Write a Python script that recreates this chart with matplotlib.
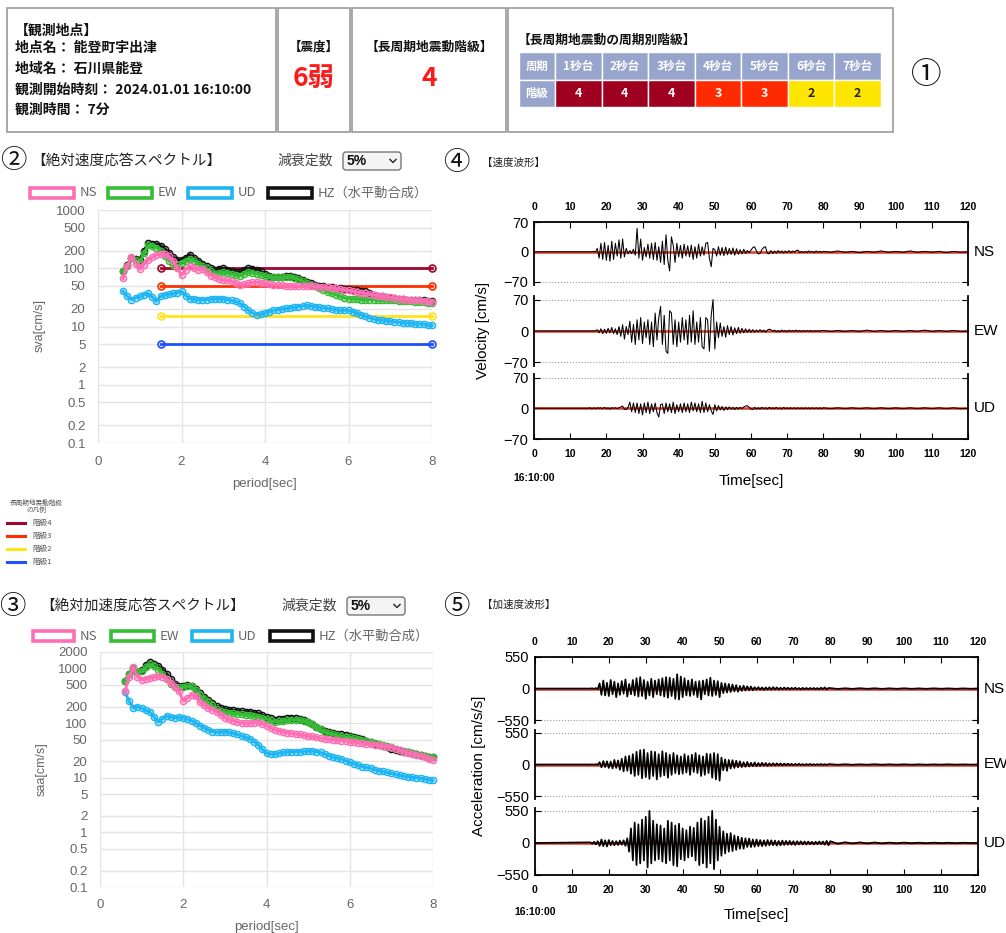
import numpy as np
import matplotlib
matplotlib.use('Agg')
import matplotlib.pyplot as plt
from matplotlib.patches import Rectangle, FancyBboxPatch
from matplotlib.colors import to_rgba
from matplotlib.ticker import NullLocator

plt.rcParams['font.family'] = ['Noto Sans CJK JP', 'DejaVu Sans']
LAT = ['Liberation Sans', 'DejaVu Sans']

W, H = 1006, 933

# ---- header data ----
site_lines = ['【観測地点】', '地点名： 能登町宇出津', '地域名： 石川県能登',
              '観測開始時刻： 2024.01.01 16:10:00', '観測時間： 7分']
shindo = '6弱'
lpgm_class = '4'
period_cols = ['1秒台', '2秒台', '3秒台', '4秒台', '5秒台', '6秒台', '7秒台']
period_class = [4, 4, 4, 3, 3, 2, 2]

# ---- response spectra (period 0.6 .. 8.0 s) ----
period = [0.6, 0.7, 0.8, 0.9, 1.0, 1.1, 1.2, 1.3, 1.4, 1.5,
          1.6, 1.7, 1.8, 1.9, 2.0, 2.1, 2.2, 2.3, 2.4, 2.5,
          2.6, 2.7, 2.8, 2.9, 3.0, 3.1, 3.2, 3.3, 3.4, 3.5,
          3.6, 3.7, 3.8, 3.9, 4.0, 4.1, 4.2, 4.3, 4.4, 4.5,
          4.6, 4.7, 4.8, 4.9, 5.0, 5.1, 5.2, 5.3, 5.4, 5.5,
          5.6, 5.7, 5.8, 5.9, 6.0, 6.1, 6.2, 6.3, 6.4, 6.5,
          6.6, 6.7, 6.8, 6.9, 7.0, 7.1, 7.2, 7.3, 7.4, 7.5,
          7.6, 7.7, 7.8, 7.9, 8.0]

sva_ns = [67, 110, 158, 120, 96, 115, 140, 155, 170, 175,
          175, 160, 135, 100, 76, 95, 110, 100, 95, 98,
          85, 75, 70, 65, 62, 62, 60, 56, 52, 53,
          55, 57, 58, 56, 55, 53, 52, 51, 51, 50,
          50, 50, 49, 49, 50, 50, 49, 48, 48, 47,
          46, 45, 44, 43, 42, 41, 39, 38, 37, 36,
          35, 34, 33, 32, 32, 31, 30, 30, 29, 29,
          28, 28, 27, 27, 26]
sva_ew = [90, 110, 150, 140, 130, 180, 250, 245, 225, 200,
          165, 135, 112, 105, 125, 135, 145, 135, 120, 110,
          100, 88, 80, 82, 85, 82, 80, 77, 75, 80,
          85, 83, 80, 77, 74, 71, 70, 70, 70, 71,
          72, 69, 65, 60, 56, 52, 49, 45, 42, 39,
          37, 35, 33, 31, 30, 30, 30, 29, 29, 29,
          29, 28, 28, 28, 28, 28, 27, 27, 27, 27,
          26, 26, 26, 25, 25]
sva_ud = [40, 33, 29, 31, 33, 35, 37, 32, 27, 33,
          35, 36, 37, 38, 40, 34, 30, 30, 29, 29,
          29, 30, 30, 30, 30, 29, 28, 27, 25, 22,
          19, 17, 16, 16.5, 17, 18, 19, 19.5, 20, 20.5,
          21, 21.5, 22, 22.5, 23, 22.5, 22, 21.5, 21, 20.5,
          20, 19.5, 19, 19, 19, 18, 17, 16, 15, 14,
          13.5, 13, 13, 12.5, 12.5, 12, 12, 11.5, 11.5, 11.5,
          11, 11, 11, 10.5, 10.5]
sva_hz = [90, 115, 150, 145, 140, 200, 270, 265, 260, 245,
          215, 185, 155, 140, 140, 150, 170, 150, 135, 120,
          110, 100, 95, 98, 100, 95, 90, 87, 85, 92,
          100, 98, 95, 88, 80, 75, 72, 72, 72, 74,
          75, 72, 68, 63, 59, 55, 52, 50, 49, 48,
          47, 46, 45, 44, 44, 43, 42, 41, 40, 37,
          35, 34, 33, 32, 31, 31, 30, 30, 29, 29,
          28, 28, 28, 27, 27]

saa_ns = [380, 700, 1050, 700, 620, 650, 680, 700, 720, 700,
          650, 550, 450, 380, 255, 290, 330, 310, 240, 210,
          190, 175, 160, 140, 125, 118, 110, 105, 100, 100,
          100, 102, 105, 98, 90, 82, 75, 72, 70, 67,
          65, 63, 62, 60, 58, 57, 55, 53, 52, 51,
          50, 49, 48, 47, 46, 45, 44, 43, 42, 41,
          40, 39, 38, 37, 36, 34, 32, 30, 28, 27,
          26, 25, 24, 22, 21]
saa_ew = [600, 800, 1000, 850, 900, 1050, 1200, 1100, 950, 800,
          650, 520, 450, 450, 460, 480, 470, 400, 330, 280,
          240, 210, 180, 165, 160, 155, 150, 148, 145, 142,
          140, 135, 130, 125, 120, 112, 105, 108, 110, 112,
          115, 116, 115, 110, 105, 95, 85, 77, 70, 65,
          62, 60, 58, 56, 55, 53, 52, 50, 48, 46,
          44, 42, 40, 38, 36, 34, 32, 31, 29, 28,
          27, 26, 25, 24, 24]
saa_ud = [370, 250, 190, 200, 190, 170, 160, 130, 105, 120,
          135, 130, 125, 130, 125, 118, 110, 100, 90, 82,
          75, 70, 68, 69, 70, 68, 65, 62, 58, 55,
          52, 46, 40, 33, 28, 27, 27, 28, 29, 29.5,
          30, 30, 30, 30.5, 31, 31, 30, 29, 27, 25.5,
          24, 23, 22, 20.5, 19, 18, 17, 16, 15.5, 15,
          14, 13.5, 13, 12.5, 12, 11.5, 11, 10.8, 10.5, 10.2,
          10, 9.8, 9.5, 9.2, 9]
saa_hz = [600, 800, 1000, 850, 950, 1150, 1300, 1200, 1100, 950,
          800, 650, 520, 480, 470, 490, 480, 420, 350, 300,
          260, 230, 205, 190, 180, 175, 170, 168, 165, 162,
          160, 155, 150, 140, 130, 122, 115, 118, 120, 123,
          125, 124, 120, 112, 105, 95, 85, 78, 72, 68,
          65, 63, 62, 60, 58, 56, 54, 51, 48, 45,
          42, 40, 38, 36, 34, 32, 31, 30, 29, 28,
          27, 26, 25, 24, 24]

level_vals = [100, 50, 15, 5]
level_names = ['階級4', '階級3', '階級2', '階級1']
level_span = [1.5, 8.0]

# ---- waveforms: samples every 0.5 s from 15 s, then every 2 s from 80 s ----
WAVE_T0, WAVE_DT = 15.0, 0.5
TAIL_T0, TAIL_DT = 80.0, 2.0

vel_ns = [0, 0, 0, 1, -1, 8, -15, 20, -18, 22,
          -20, 15, -22, 25, -18, 20, -10, 28, -15, 30,
          -12, 8, -5, 3, -4, 6, -8, 55, -15, 30,
          -20, 10, -12, 18, -15, 20, -18, 22, -20, 12,
          -25, 25, -30, 40, -20, -45, 35, 15, -25, 20,
          -12, 15, -15, 18, -10, 14, -12, 16, -18, 12,
          -15, 18, -10, 12, -8, 20, 22, -15, -35, 8,
          5, -10, 12, -8, 10, -9, 11, -7, 8, -6,
          9, -8, 7, -6, 5, -5, 6, -4, 3, -2,
          4, 10, 12, 2, -5, -4, 5, 10, 12, -3,
          -5, 3, -4, 2, -3, 3, -2, 2, -3, 2,
          -2, 3, -2, 2, -1, 3, 4, -2, 1, -2,
          1, -2, 2, -1, 1, -2, 2, -1, 1, -1]
vel_ew = [0, 0, 0, 0, 0, 3, -4, 5, -6, 4,
          -5, 6, -4, 8, -6, 5, -8, 10, -12, 14,
          -18, 10, -8, 22, -25, 15, -30, 25, -20, 30,
          -28, 20, -15, 25, -30, 20, -35, 40, -20, 30,
          55, -30, 35, -45, -50, 45, 40, -30, 25, -35,
          20, -25, 30, -20, 25, -30, 35, -25, 45, -30,
          20, -25, 30, -35, -40, 30, 25, -45, 35, 70,
          -40, 20, -15, 18, -12, 10, -14, 12, -8, 10,
          -9, 7, -6, 8, -5, 6, -4, 5, -3, 4,
          -3, 3, -3, 2, -2, 3, -2, 2, -3, 2,
          4, 3, -1, 2, -2, 1, -2, 2, -1, 1,
          -2, 2, -1, 1, -1, 2, -1, 1, -1, 1,
          -1, 1, -1, 1, -1, 1, -1, 1, -1, 1]
vel_ud = [0, 1, -1, 1, -1, 1, 0, 1, -1, 2,
          -1, 1, -2, 1, 0, 1, -1, 1, 3, 5,
          -2, -3, 2, 14, -8, 12, -10, 12, -12, 10,
          -15, 12, -10, 14, -12, 10, -8, 12, -10, -20,
          8, 10, -12, 12, -8, 10, -10, 14, -12, 8,
          -8, 10, -10, 12, -8, 10, -10, 14, -6, 12,
          -8, 10, -10, 16, -10, 12, -8, 8, -6, -14,
          8, -6, 6, -4, 4, -5, 3, -3, 3, -2,
          2, -3, 2, -2, 2, -1, 3, 5, 6, 2,
          -2, -3, 2, -2, 1, -2, 2, -1, 1, -2,
          2, -1, 1, -1, 2, -1, 1, -2, 2, -1,
          1, -1, 1, -1, 1, -1, 1, -1, 1, -1,
          1, -1, 1, -1, 1, -1, 1, -1, 1, -1]
vel_ns_tail = [1, -1, 2, -1, 1, -2, 1, -1, 2, -1, 1, -1, 2, -1, 1, -1, 1, -2, 1, -1, 0]
vel_ew_tail = [1, -1, 1, -1, 1, -1, 2, -1, 1, -1, 1, -1, 1, -1, 2, -1, 1, -1, 1, -1, 0]
vel_ud_tail = [1, -1, 1, -1, 1, -1, 1, -1, 1, -1, 1, -1, 1, -1, 1, -1, 1, -1, 1, -1, 0]

acc_ns = [0, 5, -5, 8, -10, 90, -110, 140, -120, 100,
          -130, 150, -100, 120, -150, 90, -110, 130, -90, 160,
          -140, 80, -100, 150, -120, 180, -140, 200, -130, 150,
          -180, 120, -120, 170, -150, 140, -100, 160, -120, 180,
          -140, 200, -160, 190, -130, 170, -180, 250, -190, 210,
          -150, 180, -120, 140, -130, 160, -110, 120, -150, 130,
          -190, 140, -100, 160, -120, 190, -130, 140, -110, 130,
          -150, 100, -80, 90, -70, 80, -60, 70, -50, 60,
          -55, 45, -40, 50, -35, 40, -30, 35, -30, 25,
          -20, 25, -20, 20, -25, 20, -18, 22, -20, 25,
          -15, 20, -18, 15, -15, 18, -12, 15, -15, 12,
          -10, 15, -12, 10, -15, 12, -10, 10, -12, 10,
          -8, 10, -10, 8, -12, 15, -10, 20, -15, 10]
acc_ew = [0, 3, -4, 5, -5, 40, -50, 60, -45, 55,
          -60, 50, -70, 80, -60, 70, -90, 100, -120, 140,
          -110, 150, -160, 180, -200, 220, -180, 250, -240, 260,
          -220, 200, -250, 230, -200, 220, -260, 180, -210, 230,
          -190, 200, -230, 170, -180, 200, -150, 160, -170, 140,
          -160, 180, -140, 150, -180, 170, -130, 200, -150, 160,
          -200, 140, -180, 190, -150, 180, -230, 200, -260, 180,
          -280, 120, -100, 90, -110, 80, -70, 75, -60, 65,
          -50, 55, -45, 40, -40, 45, -35, 30, -30, 35,
          -30, 25, -25, 30, -20, 25, -25, 20, -20, 22,
          -18, 20, -15, 18, -15, 15, -12, 15, -14, 12,
          -12, 10, -10, 12, -10, 8, -10, 8, -8, 10,
          -8, 6, -8, 6, -6, 8, -6, 5, -6, 5]
acc_ud = [10, -15, 20, -25, 30, -50, 60, -55, 45, -60,
          50, -40, 35, -40, 30, -35, 40, -30, 45, -50,
          80, -150, 250, -300, 350, -380, 320, -350, 400, -300,
          450, -420, 550, -350, 380, -300, 320, -280, 300, -320,
          250, -350, 380, -300, 350, -380, 300, -400, 330, -280,
          250, -300, 220, -250, 280, -230, 260, -300, 350, -380,
          420, -350, 380, -420, 450, -350, 550, -450, 400, -300,
          280, -220, 200, -180, 160, -150, 170, -140, 130, -120,
          110, -100, 90, -100, 80, -70, 75, -70, 60, -65,
          60, -55, 50, -55, 45, -50, 50, -40, 45, -40,
          40, -45, 35, -40, 40, -35, 35, -30, 35, -30,
          30, -35, 30, -25, 28, -25, 25, -28, 25, -22,
          20, -25, 22, -20, 25, -20, 25, -30, 35, -40]
acc_ns_tail = [8, -6, 5, -5, 6, -4, 5, -5, 4, -4, 5, -4, 3, -4, 4, -3, 3, -4, 3, -3, 2]
acc_ew_tail = [5, -4, 4, -4, 3, -3, 4, -3, 3, -3, 3, -3, 2, -3, 2, -2, 3, -2, 2, -2, 1]
acc_ud_tail = [30, -15, 12, -10, 10, -8, 8, -8, 6, -6, 6, -5, 5, -5, 5, -4, 4, -4, 4, -3, 3]

# colours
C_NS, C_EW, C_UD, C_HZ = '#ff6eb4', '#35bd35', '#1fb5f2', '#111111'
LEVEL_COLORS = ['#a0062c', '#ff3000', '#ffe41a', '#1e50ff']
CLASS_BG = {4: '#a00020', 3: '#ff2a00', 2: '#ffe600'}
CLASS_FG = {4: 'white', 3: 'white', 2: '#222222'}


def px_axes(fig, x0, y0, x1, y1):
  return fig.add_axes([x0 / W, 1 - y1 / H, (x1 - x0) / W, (y1 - y0) / H])


def draw_header(ov):
  boxes = [(7, 276), (278, 350), (352, 506), (508, 893)]
  for x0, x1 in boxes:
    ov.add_patch(Rectangle((x0, 8), x1 - x0, 124, fill=False, ec='#9a9a9a', lw=1.2))
  ys = [31, 48, 69, 90, 110]
  for s, y in zip(site_lines, ys):
    ov.text(15, y, s, fontsize=10, fontweight='bold', va='center', color='#111')
  ov.text(314, 47, '【震度】', fontsize=9, fontweight='bold', ha='center', va='center', color='#111')
  ov.text(314, 78, shindo, fontsize=19, fontweight='bold', ha='center', va='center', color='#ff1a1a')
  ov.text(429, 47, '【長周期地震動階級】', fontsize=9.2, fontweight='bold', ha='center', va='center', color='#111')
  ov.text(429, 78, lpgm_class, fontsize=19, fontweight='bold', ha='center', va='center', color='#ff1a1a')
  ov.text(518, 40, '【長周期地震動の周期別階級】', fontsize=9.2, fontweight='bold', va='center', color='#111')
  # period class table
  hdr = '#97a4cc'
  xs = [519, 555]
  cw = (881 - 555) / 7
  for i in range(7):
    xs.append(555 + cw * (i + 1))
  r0, r1, r2 = 52, 80, 107
  ov.add_patch(Rectangle((xs[0], r0), xs[1] - xs[0], r1 - r0, fc=hdr, ec='white', lw=1))
  ov.add_patch(Rectangle((xs[0], r1), xs[1] - xs[0], r2 - r1, fc=hdr, ec='white', lw=1))
  ov.text((xs[0] + xs[1]) / 2, (r0 + r1) / 2, '周期', fontsize=8.2, fontweight='bold', color='white', ha='center', va='center')
  ov.text((xs[0] + xs[1]) / 2, (r1 + r2) / 2, '階級', fontsize=8.2, fontweight='bold', color='white', ha='center', va='center')
  for i, (lab, c) in enumerate(zip(period_cols, period_class)):
    a, b = xs[i + 1], xs[i + 2]
    ov.add_patch(Rectangle((a, r0), b - a, r1 - r0, fc=hdr, ec='white', lw=1))
    ov.text((a + b) / 2, (r0 + r1) / 2, lab, fontsize=8.4, fontweight='bold', color='white', ha='center', va='center')
    ov.add_patch(Rectangle((a, r1), b - a, r2 - r1, fc=CLASS_BG[c], ec='white', lw=1))
    ov.text((a + b) / 2, (r1 + r2) / 2, str(c), fontsize=9, fontweight='bold', color=CLASS_FG[c], ha='center', va='center')
  ov.text(926, 76, '①', fontsize=22, ha='center', va='center', color='#111')


def draw_spec_head(ov, num, nx, y, title, tx, dx, legend_y, boxes):
  ov.text(nx, y, num, fontsize=19, ha='center', va='center', color='#111')
  ov.text(tx, y, title, fontsize=10.5, va='center', color='#222')
  ov.text(dx - 66, y, '減衰定数', fontsize=10, va='center', color='#444')
  ov.add_patch(FancyBboxPatch((dx, y - 9), 58, 18, boxstyle='round,pad=0,rounding_size=3',
                              fc='#f4f4f4', ec='#777', lw=1))
  ov.text(dx + 4, y, '5%', fontsize=10, fontweight='bold', va='center', color='#111', family=LAT)
  ov.plot([dx + 47, dx + 50, dx + 53], [y - 1.5, y + 1.5, y - 1.5], color='#333', lw=1.1)
  labels = ['NS', 'EW', 'UD', 'HZ（水平動合成）']
  cols = [C_NS, C_EW, C_UD, C_HZ]
  for (x0, x1), lab, c in zip(boxes, labels, cols):
    ov.add_patch(Rectangle((x0, legend_y - 5), x1 - x0, 10, fill=False, ec=c, lw=2.6))
    ov.text(x1 + 6, legend_y, lab, fontsize=9.5, va='center', color='#666')


def draw_spectrum(ax, series, ymax, yticks, ylabels):
  for vals, c in series:
    ax.plot(period, vals, color=c, lw=2, marker='o', ms=4.5, mfc=to_rgba(c, 0.35),
            mec=c, mew=1, clip_on=False, zorder=3)
  ax.set_yscale('log')
  ax.set_ylim(0.1, ymax)
  ax.set_xlim(0, 8)
  ax.set_yticks(yticks)
  ax.set_yticklabels(ylabels)
  ax.yaxis.set_minor_locator(NullLocator())
  ax.set_xticks([0, 2, 4, 6, 8])
  ax.grid(True, color='#e4e4e4', lw=1)
  ax.set_axisbelow(True)
  for s in ax.spines.values():
    s.set_visible(False)
  ax.tick_params(length=0, labelsize=9.5, colors='#666', pad=9)
  for lab in ax.get_xticklabels() + ax.get_yticklabels():
    lab.set_family(LAT)


def draw_waveforms(fig, x0, x1, rows, tick_lim, lw):
  n = len(rows)
  for i, (ytop, ybot, lo, hi, head, tail, name) in enumerate(rows):
    ax = px_axes(fig, x0, ytop, x1, ybot)
    t = np.concatenate([[0.0], WAVE_T0 + WAVE_DT * np.arange(len(head)),
                        TAIL_T0 + TAIL_DT * np.arange(len(tail))])
    v = np.concatenate([[0.0], head, tail])
    ax.axhline(0, color='#e03a2a', lw=1.8, zorder=2)
    ax.plot(t, v, color='black', lw=lw, zorder=3)
    ax.set_xlim(0, 120)
    ax.set_ylim(lo, hi)
    ax.set_yticks([-tick_lim, 0, tick_lim])
    ax.set_yticklabels(['\u2212' + str(tick_lim), '0', str(tick_lim)])
    ax.yaxis.grid(True, ls=':', color='#999', lw=0.8)
    ax.set_xticks(range(0, 121, 10))
    ax.tick_params(axis='y', direction='in', length=4, right=True, labelsize=10.5, pad=4)
    ax.tick_params(axis='x', direction='in', length=4, labelsize=7.5, pad=7,
                   top=(i == 0), bottom=(i == n - 1), labeltop=(i == 0), labelbottom=(i == n - 1))
    for lab in ax.get_xticklabels():
      lab.set_family(LAT)
      lab.set_fontweight('bold')
    for lab in ax.get_yticklabels():
      lab.set_family(LAT)
    ax.spines['top'].set_visible(i == 0)
    ax.spines['bottom'].set_visible(i == n - 1)
    for s in ax.spines.values():
      s.set_linewidth(1.3)
    ax.text(121.5, 0, name, fontsize=11, va='center', family=LAT, clip_on=False)


fig = plt.figure(figsize=(W / 100, H / 100), dpi=100)
ov = fig.add_axes([0, 0, 1, 1])
ov.set_xlim(0, W)
ov.set_ylim(H, 0)
ov.axis('off')

draw_header(ov)

# ② velocity response spectrum
draw_spec_head(ov, '②', 13, 161, '【絶対速度応答スペクトル】', 31, 343, 193,
               [(30, 74), (108, 152), (188, 232), (268, 312)])
ax2 = px_axes(fig, 98, 210, 432, 443)
for v, c in zip(level_vals[::-1], LEVEL_COLORS[::-1]):
  ax2.plot(level_span, [v, v], color=c, lw=2, marker='o', ms=5, mfc=to_rgba(c, 0.15), mec=c,
           mew=1.2, clip_on=False, zorder=2)
draw_spectrum(ax2, [(sva_hz, C_HZ), (sva_ud, C_UD), (sva_ew, C_EW), (sva_ns, C_NS)], 1000,
              [0.1, 0.2, 0.5, 1, 2, 5, 10, 20, 50, 100, 200, 500, 1000],
              ['0.1', '0.2', '0.5', '1', '2', '5', '10', '20', '50', '100', '200', '500', '1000'])
ov.text(40, 326, 'sva[cm/s]', fontsize=9, rotation=90, ha='center', va='center', color='#666', family=LAT)
ov.text(265, 484, 'period[sec]', fontsize=9.5, ha='center', va='center', color='#666', family=LAT)

# legend of the long-period class lines
ov.text(36, 503, '長周期地震動階級', fontsize=4.8, ha='center', va='center', color='#555')
ov.text(36, 510, 'の凡例', fontsize=4.8, ha='center', va='center', color='#555')
for i, (name, c) in enumerate(zip(level_names, LEVEL_COLORS)):
  yy = 523 + i * 13
  ov.plot([7, 25], [yy, yy], color=c, lw=2.2)
  ov.text(32, yy, name, fontsize=5.5, va='center', color='#555')

# ③ acceleration response spectrum
draw_spec_head(ov, '③', 12, 606, '【絶対加速度応答スペクトル】', 40, 347, 636,
               [(33, 74), (111, 154), (192, 232), (270, 313)])
ax3 = px_axes(fig, 100, 652, 433, 887)
draw_spectrum(ax3, [(saa_hz, C_HZ), (saa_ud, C_UD), (saa_ew, C_EW), (saa_ns, C_NS)], 2000,
              [0.1, 0.2, 0.5, 1, 2, 5, 10, 20, 50, 100, 200, 500, 1000, 2000],
              ['0.1', '0.2', '0.5', '1', '2', '5', '10', '20', '50', '100', '200', '500', '1000', '2000'])
ov.text(42, 769, 'saa[cm/s]', fontsize=9, rotation=90, ha='center', va='center', color='#666', family=LAT)
ov.text(267, 927, 'period[sec]', fontsize=9.5, ha='center', va='center', color='#666', family=LAT)

# ④ velocity waveforms
ov.text(456, 163, '④', fontsize=19, ha='center', va='center', color='#111')
ov.text(482, 163, '【速度波形】', fontsize=7.6, va='center', color='#222')
draw_waveforms(fig, 534, 968, [
  (222, 285, -78, 70, vel_ns, vel_ns_tail, 'NS'),
  (296, 366, -78, 78, vel_ew, vel_ew_tail, 'EW'),
  (374, 439, -70, 78, vel_ud, vel_ud_tail, 'UD'),
], 70, 0.75)
ov.text(483, 330, 'Velocity [cm/s]', fontsize=11, rotation=90, ha='center', va='center', family=LAT)
ov.text(534, 478, '16:10:00', fontsize=7.5, fontweight='bold', ha='center', va='center', family=LAT)
ov.text(751, 481, 'Time[sec]', fontsize=11, ha='center', va='center', family=LAT)

# ⑤ acceleration waveforms
ov.text(456, 606, '⑤', fontsize=19, ha='center', va='center', color='#111')
ov.text(482, 605, '【加速度波形】', fontsize=7.6, va='center', color='#222')
draw_waveforms(fig, 535, 978, [
  (657, 723, -600, 550, acc_ns, acc_ns_tail, 'NS'),
  (730, 799, -600, 600, acc_ew, acc_ew_tail, 'EW'),
  (808, 875, -550, 600, acc_ud, acc_ud_tail, 'UD'),
], 550, 1.25)
ov.text(479, 766, 'Acceleration [cm/s/s]', fontsize=11, rotation=90, ha='center', va='center', family=LAT)
ov.text(535, 912, '16:10:00', fontsize=7.5, fontweight='bold', ha='center', va='center', family=LAT)
ov.text(756, 915, 'Time[sec]', fontsize=11, ha='center', va='center', family=LAT)

fig.savefig('out.png', dpi=100)
